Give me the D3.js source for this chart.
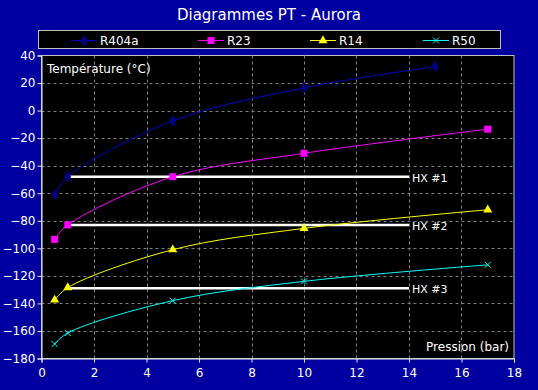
<!DOCTYPE html>
<html>
<head>
<meta charset="utf-8">
<script src="https://cdn.jsdelivr.net/npm/d3@7"></script>
<style>
  body { margin: 0; background: #0000a0; }
  svg { display: block; font-family: "DejaVu Sans", Verdana, sans-serif; }
</style>
</head>
<body>
<div id="chart"></div>
<script>
// data
const seriesNames = ["R404a", "R23", "R14", "R50"];
const pressR404a = [0.5, 1, 5, 10, 15];
const pressOthers = [0.5, 1, 5, 10, 17];
const tempR404a = [-61, -48, -7.5, 16.5, 32];
const tempR23 = [-93.5, -83, -48, -31, -13.5];
const tempR14 = [-137.5, -128.5, -101, -85.5, -72];
const tempR50 = [-169.5, -161.5, -138, -124, -112];
const hxNames = ["HX #1", "HX #2", "HX #3"];
const hxTemps = [-48, -83, -129];
const hxPress = [1, 14];
const xTicks = [0, 2, 4, 6, 8, 10, 12, 14, 16, 18];
const yTicks = [-180, -160, -140, -120, -100, -80, -60, -40, -20, 0, 20, 40];

const width = 538, height = 390;
const margin = {top: 55.5, left: 41.5, right: 24, bottom: 31.5};

const series = [
  {name: seriesNames[0], xs: pressR404a, ys: tempR404a, color: "#0000c8", mark: "#00008c", shape: "diamond"},
  {name: seriesNames[1], xs: pressOthers, ys: tempR23, color: "#ff00ff", mark: "#ff00ff", shape: "square"},
  {name: seriesNames[2], xs: pressOthers, ys: tempR14, color: "#ffff00", mark: "#ffff00", shape: "triangle"},
  {name: seriesNames[3], xs: pressOthers, ys: tempR50, color: "#00ffff", mark: "#00ffff", shape: "cross"}
];

const svg = d3.select("#chart").append("svg")
  .attr("width", width).attr("height", height);

svg.append("rect").attr("width", width).attr("height", height).attr("fill", "#0000a0");

const x = d3.scaleLinear().domain([0, 18]).range([margin.left, width - margin.right]);
const y = d3.scaleLinear().domain([-180, 40]).range([height - margin.bottom, margin.top]);

// title
svg.append("text")
  .attr("x", 269).attr("y", 20)
  .attr("text-anchor", "middle")
  .attr("fill", "#ffffff")
  .attr("font-size", 15)
  .text("Diagrammes PT - Aurora");

// legend box
const legend = svg.append("g");
legend.append("rect")
  .attr("x", 38.5).attr("y", 30.5).attr("width", 462).attr("height", 18)
  .attr("fill", "#000000").attr("stroke", "#c0c0c0");

const legendX = [71, 198, 310, 423];

function drawMarker(g, shape, color, cx, cy) {
  if (shape === "diamond") {
    g.append("path").attr("d", d3.symbol(d3.symbolDiamond, 40)())
      .attr("transform", `translate(${cx},${cy})`).attr("fill", color);
  } else if (shape === "square") {
    g.append("rect").attr("x", cx - 3.5).attr("y", cy - 3.5).attr("width", 7).attr("height", 7)
      .attr("fill", color);
  } else if (shape === "triangle") {
    g.append("path").attr("d", d3.symbol(d3.symbolTriangle, 36)())
      .attr("transform", `translate(${cx},${cy})`).attr("fill", color);
  } else {
    g.append("path").attr("d", `M${cx - 3},${cy - 3}L${cx + 3},${cy + 3}M${cx - 3},${cy + 3}L${cx + 3},${cy - 3}`)
      .attr("stroke", color).attr("stroke-width", 1).attr("fill", "none");
  }
}

series.forEach((s, i) => {
  const lx = legendX[i];
  legend.append("line")
    .attr("x1", lx).attr("x2", lx + 26).attr("y1", 40.5).attr("y2", 40.5)
    .attr("stroke", s.color).attr("stroke-width", 1);
  drawMarker(legend, s.shape, s.mark, lx + 13, 40.5);
  legend.append("text")
    .attr("x", lx + 29).attr("y", 45)
    .attr("fill", "#ffffff").attr("font-size", 12)
    .text(s.name);
});

// plot area
svg.append("rect")
  .attr("x", margin.left).attr("y", margin.top)
  .attr("width", x(18) - x(0)).attr("height", y(-180) - y(40))
  .attr("fill", "#000000").attr("stroke", "#c0c0c0");

// grid
const grid = svg.append("g");
grid.selectAll(".vg").data(xTicks.slice(1, -1)).join("line")
  .attr("x1", d => Math.round(x(d)) + 0.5).attr("x2", d => Math.round(x(d)) + 0.5)
  .attr("y1", y(40)).attr("y2", y(-180))
  .attr("stroke", "#808080").attr("stroke-dasharray", "3,3");
grid.selectAll(".hg").data(yTicks.slice(1, -1)).join("line")
  .attr("x1", x(0)).attr("x2", x(18))
  .attr("y1", d => Math.round(y(d)) + 0.5).attr("y2", d => Math.round(y(d)) + 0.5)
  .attr("stroke", "#808080").attr("stroke-dasharray", "3,3");

// axes
const xAxis = svg.append("g")
  .attr("transform", `translate(0,${y(-180)})`)
  .call(d3.axisBottom(x).tickValues(xTicks).tickSize(4).tickPadding(6));
const yAxis = svg.append("g")
  .attr("transform", `translate(${x(0)},0)`)
  .call(d3.axisLeft(y).tickValues(yTicks).tickSize(4).tickPadding(2));
[xAxis, yAxis].forEach(a => {
  a.select(".domain").attr("stroke", "#e8e8e8");
  a.selectAll(".tick line").attr("stroke", "#e8e8e8");
  a.selectAll(".tick text").attr("fill", "#ffffff").attr("font-size", 12)
    .attr("font-family", "DejaVu Sans, Verdana, sans-serif");
});

// axis titles inside the plot
svg.append("text").attr("x", 47).attr("y", 73)
  .attr("fill", "#ffffff").attr("font-size", 12).text("Température (°C)");
svg.append("text").attr("x", 509).attr("y", 351).attr("text-anchor", "end")
  .attr("fill", "#ffffff").attr("font-size", 12).text("Pression (bar)");

// HX lines
const hx = svg.append("g");
hxTemps.forEach((t, i) => {
  hx.append("line")
    .attr("x1", x(hxPress[0])).attr("x2", x(hxPress[1]))
    .attr("y1", y(t)).attr("y2", y(t))
    .attr("stroke", "#ffffff").attr("stroke-width", 2.5);
  hx.append("text")
    .attr("x", x(hxPress[1]) + 3).attr("y", y(t) + 5)
    .attr("fill", "#ffffff").attr("font-size", 11)
    .text(hxNames[i]);
});

// curves
const line = d3.line()
  .x(d => x(d[0])).y(d => y(d[1]))
  .curve(d3.curveCatmullRom.alpha(0.5));

series.forEach(s => {
  const pts = s.xs.map((p, i) => [p, s.ys[i]]);
  const g = svg.append("g");
  g.append("path").datum(pts)
    .attr("d", line)
    .attr("fill", "none").attr("stroke", s.color).attr("stroke-width", 1);
  pts.forEach(p => drawMarker(g, s.shape, s.mark, x(p[0]), y(p[1])));
});
</script>
</body>
</html>
